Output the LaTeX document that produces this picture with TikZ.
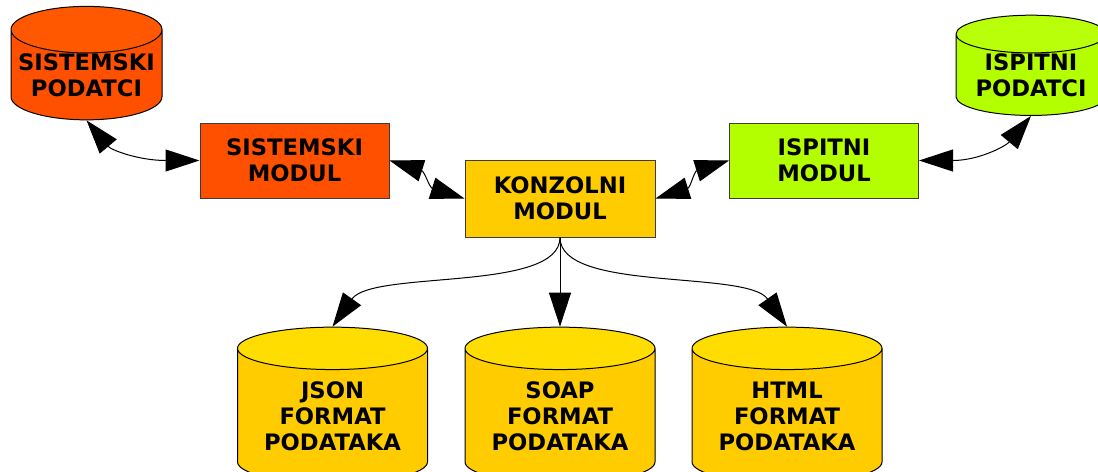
\documentclass[tikz,border=0pt]{standalone}
\usepackage{fontspec}
\setmainfont{DejaVu Sans}
\usetikzlibrary{shapes.geometric,arrows.meta}

\definecolor{sisred}{RGB}{255,80,0}
\definecolor{sisredtop}{RGB}{255,88,0}
\definecolor{konzyellow}{RGB}{255,204,0}
\definecolor{dbtop}{RGB}{255,221,0}
\definecolor{ispgreen}{RGB}{179,255,0}
\definecolor{ispgreentop}{RGB}{186,255,10}
\definecolor{rub}{RGB}{60,60,60}

\tikzset{
  txt/.style={font=\bfseries\fontsize{17}{19.5}\selectfont, align=center},
  modul/.style={txt, draw=rub, line width=0.75pt, inner sep=0pt},
  baza/.style={txt, cylinder, shape border rotate=90, draw=black, line width=0.75pt,
    inner sep=0pt, cylinder uses custom fill},
  glava/.tip={Triangle[length=25.5pt,width=16.5pt]},
  jedna/.style={line width=0.75pt, -glava},
  obje/.style={line width=0.75pt, glava-glava}
}

\begin{document}
\begin{tikzpicture}[x=0.75pt,y=-0.75pt]
  \useasboundingbox (0,0) rectangle (1098,471);

  %% moduli
  \node[modul, fill=sisred, minimum width=141.75pt, minimum height=56.25pt]
    (sismod) at (294.5,160.5) {SISTEMSKI\\MODUL};
  \node[modul, fill=konzyellow, minimum width=142.5pt, minimum height=57.75pt]
    (konz) at (560,198.5) {KONZOLNI\\MODUL};
  \node[modul, fill=ispgreen, minimum width=141.75pt, minimum height=56.25pt]
    (ispmod) at (824,160.5) {ISPITNI\\MODUL};

  %% podatci gore
  \node[baza, aspect=0.34, minimum width=113.25pt, minimum height=72pt,
    cylinder body fill=sisred, cylinder end fill=sisredtop]
    (sispod) at (86.5,75) {SISTEMSKI\\PODATCI};
  \node[baza, aspect=0.34, minimum width=112.5pt, minimum height=72pt,
    cylinder body fill=ispgreen, cylinder end fill=ispgreentop]
    (isppod) at (1031,75) {ISPITNI\\PODATCI};

  %% formati dolje
  \node[baza, aspect=0.31, minimum width=142.5pt, minimum height=117pt,
    cylinder body fill=konzyellow, cylinder end fill=dbtop]
    (json) at (332.5,416) {JSON\\FORMAT\\PODATAKA};
  \node[baza, aspect=0.31, minimum width=142.5pt, minimum height=117pt,
    cylinder body fill=konzyellow, cylinder end fill=dbtop]
    (soap) at (560,416) {SOAP\\FORMAT\\PODATAKA};
  \node[baza, aspect=0.31, minimum width=142.5pt, minimum height=117pt,
    cylinder body fill=konzyellow, cylinder end fill=dbtop]
    (html) at (787,416) {HTML\\FORMAT\\PODATAKA};

  %% veze
  \draw[obje] (sispod.south) .. controls +(25,30) and +(-60,0) .. (sismod.west);
  \draw[obje] (sismod.east) .. controls +(35,11) and +(-35,-11) .. (konz.west);
  \draw[obje] (konz.east) .. controls +(35,-11) and +(-35,11) .. (ispmod.west);
  \draw[obje] (ispmod.east) .. controls +(60,0) and +(-25,30) .. (isppod.south);

  \draw[jedna] (konz.south) .. controls +(0,55) and +(40,-57) .. (json.north);
  \draw[jedna] (konz.south) -- (soap.north);
  \draw[jedna] (konz.south) .. controls +(0,55) and +(-40,-57) .. (html.north);
\end{tikzpicture}
\end{document}
